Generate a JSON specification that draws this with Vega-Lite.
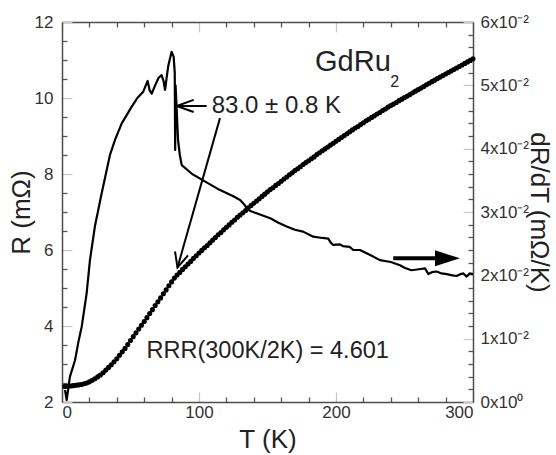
{
  "$schema": "https://vega.github.io/schema/vega-lite/v6.json",
  "autosize": "none",
  "width": 411,
  "height": 380,
  "padding": {"left": 62, "top": 22, "right": 83, "bottom": 53},
  "config": {
    "view": {"stroke": null},
    "font": "Liberation Sans",
    "axis": {
      "grid": false,
      "domainColor": "#4d4d4d",
      "domainWidth": 1.5,
      "labelFont": "Liberation Sans",
      "labelFontSize": 17,
      "labelColor": "#333333",
      "titleFont": "Liberation Sans",
      "titleFontSize": 26,
      "titleFontWeight": "normal",
      "titleColor": "#222222",
      "tickWidth": 1.3
    }
  },
  "datasets": {
    "R": [
      {"T": 2, "R": 2.41}, {"T": 4, "R": 2.415}, {"T": 6, "R": 2.42}, {"T": 8, "R": 2.43}, {"T": 10, "R": 2.44},
      {"T": 12, "R": 2.45}, {"T": 14, "R": 2.46}, {"T": 16, "R": 2.48}, {"T": 18, "R": 2.5}, {"T": 20, "R": 2.53},
      {"T": 22, "R": 2.57}, {"T": 24, "R": 2.61}, {"T": 26, "R": 2.66}, {"T": 28, "R": 2.71}, {"T": 30, "R": 2.77},
      {"T": 32, "R": 2.84}, {"T": 34, "R": 2.91}, {"T": 36, "R": 2.98}, {"T": 38, "R": 3.06}, {"T": 40, "R": 3.14},
      {"T": 42, "R": 3.23}, {"T": 44, "R": 3.32}, {"T": 46, "R": 3.41}, {"T": 48, "R": 3.51}, {"T": 50, "R": 3.62},
      {"T": 52, "R": 3.72}, {"T": 54, "R": 3.82}, {"T": 56, "R": 3.92}, {"T": 58, "R": 4.02}, {"T": 60, "R": 4.12},
      {"T": 62, "R": 4.22}, {"T": 64, "R": 4.33}, {"T": 66, "R": 4.43}, {"T": 68, "R": 4.54}, {"T": 70, "R": 4.64},
      {"T": 72, "R": 4.74}, {"T": 74, "R": 4.85}, {"T": 76, "R": 4.95}, {"T": 78, "R": 5.06}, {"T": 80, "R": 5.16},
      {"T": 82, "R": 5.26}, {"T": 84, "R": 5.34}, {"T": 86, "R": 5.41}, {"T": 88, "R": 5.49}, {"T": 90, "R": 5.56},
      {"T": 92, "R": 5.63}, {"T": 94, "R": 5.7}, {"T": 96, "R": 5.78}, {"T": 98, "R": 5.85}, {"T": 100, "R": 5.92},
      {"T": 102, "R": 5.99}, {"T": 104, "R": 6.06}, {"T": 106, "R": 6.12}, {"T": 108, "R": 6.19}, {"T": 110, "R": 6.26},
      {"T": 112, "R": 6.33}, {"T": 114, "R": 6.4}, {"T": 116, "R": 6.46}, {"T": 118, "R": 6.53}, {"T": 120, "R": 6.6},
      {"T": 122, "R": 6.66}, {"T": 124, "R": 6.73}, {"T": 126, "R": 6.79}, {"T": 128, "R": 6.86}, {"T": 130, "R": 6.92},
      {"T": 132, "R": 6.98}, {"T": 134, "R": 7.04}, {"T": 136, "R": 7.11}, {"T": 138, "R": 7.17}, {"T": 140, "R": 7.23},
      {"T": 142, "R": 7.29}, {"T": 144, "R": 7.35}, {"T": 146, "R": 7.41}, {"T": 148, "R": 7.47}, {"T": 150, "R": 7.53},
      {"T": 152, "R": 7.59}, {"T": 154, "R": 7.64}, {"T": 156, "R": 7.7}, {"T": 158, "R": 7.75}, {"T": 160, "R": 7.81},
      {"T": 162, "R": 7.87}, {"T": 164, "R": 7.92}, {"T": 166, "R": 7.98}, {"T": 168, "R": 8.03}, {"T": 170, "R": 8.09},
      {"T": 172, "R": 8.14}, {"T": 174, "R": 8.19}, {"T": 176, "R": 8.25}, {"T": 178, "R": 8.3}, {"T": 180, "R": 8.35},
      {"T": 182, "R": 8.4}, {"T": 184, "R": 8.45}, {"T": 186, "R": 8.51}, {"T": 188, "R": 8.56}, {"T": 190, "R": 8.61},
      {"T": 192, "R": 8.66}, {"T": 194, "R": 8.71}, {"T": 196, "R": 8.76}, {"T": 198, "R": 8.81}, {"T": 200, "R": 8.86},
      {"T": 202, "R": 8.91}, {"T": 204, "R": 8.96}, {"T": 206, "R": 9.01}, {"T": 208, "R": 9.06}, {"T": 210, "R": 9.11},
      {"T": 212, "R": 9.16}, {"T": 214, "R": 9.21}, {"T": 216, "R": 9.25}, {"T": 218, "R": 9.3}, {"T": 220, "R": 9.35},
      {"T": 222, "R": 9.4}, {"T": 224, "R": 9.44}, {"T": 226, "R": 9.49}, {"T": 228, "R": 9.53}, {"T": 230, "R": 9.58},
      {"T": 232, "R": 9.62}, {"T": 234, "R": 9.67}, {"T": 236, "R": 9.71}, {"T": 238, "R": 9.76}, {"T": 240, "R": 9.8},
      {"T": 242, "R": 9.84}, {"T": 244, "R": 9.88}, {"T": 246, "R": 9.93}, {"T": 248, "R": 9.97}, {"T": 250, "R": 10.01},
      {"T": 252, "R": 10.05}, {"T": 254, "R": 10.09}, {"T": 256, "R": 10.14}, {"T": 258, "R": 10.18}, {"T": 260, "R": 10.22},
      {"T": 262, "R": 10.26}, {"T": 264, "R": 10.3}, {"T": 266, "R": 10.35}, {"T": 268, "R": 10.39}, {"T": 270, "R": 10.43},
      {"T": 272, "R": 10.47}, {"T": 274, "R": 10.51}, {"T": 276, "R": 10.55}, {"T": 278, "R": 10.59}, {"T": 280, "R": 10.63},
      {"T": 282, "R": 10.67}, {"T": 284, "R": 10.71}, {"T": 286, "R": 10.75}, {"T": 288, "R": 10.79}, {"T": 290, "R": 10.83},
      {"T": 292, "R": 10.87}, {"T": 294, "R": 10.91}, {"T": 296, "R": 10.95}, {"T": 298, "R": 10.99}, {"T": 300, "R": 11.03}
    ],
    "D": [
      {"T": 2.2, "D": 0.0019}, {"T": 3.4, "D": 0.0003}, {"T": 5.8, "D": 0.004}, {"T": 9.5, "D": 0.0066},
      {"T": 12, "D": 0.0095}, {"T": 14.4, "D": 0.0119}, {"T": 18, "D": 0.0172}, {"T": 20.4, "D": 0.0224},
      {"T": 24, "D": 0.0277}, {"T": 29, "D": 0.033}, {"T": 32.6, "D": 0.0366}, {"T": 35, "D": 0.039},
      {"T": 38.7, "D": 0.0414}, {"T": 43.6, "D": 0.044}, {"T": 50.8, "D": 0.0466}, {"T": 55, "D": 0.048},
      {"T": 59.3, "D": 0.049}, {"T": 62.5, "D": 0.0507}, {"T": 64, "D": 0.0492}, {"T": 65.5, "D": 0.0487},
      {"T": 68, "D": 0.05}, {"T": 70.5, "D": 0.0512}, {"T": 72.7, "D": 0.0516}, {"T": 74.2, "D": 0.0506},
      {"T": 75.2, "D": 0.0493}, {"T": 77.5, "D": 0.053}, {"T": 80, "D": 0.0553}, {"T": 81.5, "D": 0.0545},
      {"T": 82.3, "D": 0.052}, {"T": 82.6, "D": 0.0398}, {"T": 82.9, "D": 0.05}, {"T": 84.7, "D": 0.0414},
      {"T": 86, "D": 0.039}, {"T": 87.4, "D": 0.0374}, {"T": 95, "D": 0.036}, {"T": 103, "D": 0.035},
      {"T": 115, "D": 0.0335}, {"T": 125, "D": 0.0325}, {"T": 130, "D": 0.0319}, {"T": 133, "D": 0.0312},
      {"T": 134.8, "D": 0.0306}, {"T": 137, "D": 0.0302}, {"T": 142, "D": 0.0298}, {"T": 152, "D": 0.029},
      {"T": 158, "D": 0.0283}, {"T": 164, "D": 0.0277}, {"T": 170, "D": 0.0272}, {"T": 176, "D": 0.0269},
      {"T": 183.4, "D": 0.0261}, {"T": 190, "D": 0.0259}, {"T": 194.4, "D": 0.0258}, {"T": 196, "D": 0.0252},
      {"T": 198, "D": 0.0248}, {"T": 203, "D": 0.0249}, {"T": 205, "D": 0.0246}, {"T": 210, "D": 0.0245},
      {"T": 212.6, "D": 0.024}, {"T": 217.5, "D": 0.024}, {"T": 225, "D": 0.0232}, {"T": 232, "D": 0.0224},
      {"T": 240, "D": 0.0221}, {"T": 246.7, "D": 0.0216}, {"T": 250, "D": 0.0212}, {"T": 255, "D": 0.0208},
      {"T": 262, "D": 0.021}, {"T": 265, "D": 0.0211}, {"T": 267.4, "D": 0.0202}, {"T": 270, "D": 0.0205},
      {"T": 273.5, "D": 0.0206}, {"T": 277, "D": 0.0203}, {"T": 280.8, "D": 0.0202}, {"T": 285, "D": 0.02},
      {"T": 288, "D": 0.0199}, {"T": 291, "D": 0.0202}, {"T": 293, "D": 0.0203}, {"T": 295.4, "D": 0.0198},
      {"T": 297.5, "D": 0.0203}, {"T": 300, "D": 0.0202}
    ],
    "arrows": [
      {"g": "h_shaft", "i": 0, "T": 83.7, "R": 9.79}, {"g": "h_shaft", "i": 1, "T": 105.6, "R": 9.79},
      {"g": "h_head", "i": 0, "T": 96.1, "R": 9.95}, {"g": "h_head", "i": 1, "T": 83.7, "R": 9.79}, {"g": "h_head", "i": 2, "T": 96.1, "R": 9.63},
      {"g": "d_shaft", "i": 0, "T": 115.3, "R": 9.47}, {"g": "d_shaft", "i": 1, "T": 84.3, "R": 5.54},
      {"g": "d_head", "i": 0, "T": 92.0, "R": 5.86}, {"g": "d_head", "i": 1, "T": 84.3, "R": 5.54}, {"g": "d_head", "i": 2, "T": 82.5, "R": 5.96}
    ],
    "bigarrow": [
      {"g": "r_shaft", "i": 0, "T": 241.8, "R": 5.78}, {"g": "r_shaft", "i": 1, "T": 274, "R": 5.78}
    ],
    "head": [{"T": 281.4, "R": 5.78}],
    "labels": [
      {"T": 184.7, "R": 10.72, "text": "GdRu", "size": 29},
      {"T": 109.3, "R": 9.61, "text": "83.0 ± 0.8 K", "size": 24},
      {"T": 61.7, "R": 3.15, "text": "RRR(300K/2K) = 4.601", "size": 23.5}
    ],
    "sub": [{"T": 239.6, "R": 10.3, "text": "2"}]
  },
  "layer": [
    {
      "data": {"name": "R"},
      "mark": {"type": "point", "filled": true, "shape": "circle", "size": 26, "color": "#000000", "opacity": 1},
      "encoding": {
        "x": {
          "field": "T", "type": "quantitative",
          "scale": {"domain": [0, 300], "nice": false, "zero": false},
          "axis": {
            "orient": "bottom", "title": "T (K)",
            "values": [0, 20, 40, 60, 80, 100, 120, 140, 160, 180, 200, 220, 240, 260, 280, 300],
            "labelExpr": "datum.value % 100 === 0 ? '' + datum.value : ''",
            "tickSize": {"condition": {"test": "datum.value % 100 === 0", "value": -10}, "value": -5},
            "tickColor": {"condition": {"test": "datum.value % 100 === 0", "value": "#c8c8c8"}, "value": "#555555"},
            "labelPadding": 12, "titleY": 24
          }
        },
        "y": {
          "field": "R", "type": "quantitative",
          "scale": {"domain": [2, 12], "nice": false, "zero": false},
          "axis": {
            "orient": "left", "title": "R  (mΩ)",
            "values": [2, 2.5, 3, 3.5, 4, 4.5, 5, 5.5, 6, 6.5, 7, 7.5, 8, 8.5, 9, 9.5, 10, 10.5, 11, 11.5, 12],
            "labelExpr": "datum.value % 2 === 0 ? '' + datum.value : ''",
            "tickSize": {"condition": {"test": "datum.value % 2 === 0", "value": -10}, "value": -5},
            "tickColor": {"condition": {"test": "datum.value % 2 === 0", "value": "#c8c8c8"}, "value": "#555555"},
            "labelPadding": 19, "titleX": -28
          }
        }
      }
    },
    {
      "data": {"name": "D"},
      "mark": {"type": "line", "color": "#000000", "strokeWidth": 2.2, "strokeJoin": "round"},
      "encoding": {
        "x": {
          "field": "T", "type": "quantitative",
          "scale": {"domain": [0, 300], "nice": false, "zero": false},
          "axis": {
            "orient": "top", "title": null, "labels": false,
            "values": [0, 20, 40, 60, 80, 100, 120, 140, 160, 180, 200, 220, 240, 260, 280, 300],
            "tickSize": {"condition": {"test": "datum.value % 100 === 0", "value": -10}, "value": -5},
            "tickColor": {"condition": {"test": "datum.value % 100 === 0", "value": "#c8c8c8"}, "value": "#555555"}
          }
        },
        "y": {
          "field": "D", "type": "quantitative",
          "scale": {"domain": [0, 0.06], "nice": false, "zero": false},
          "axis": {
            "orient": "right", "title": "dR/dT (mΩ/K)",
            "values": [0, 0.002, 0.004, 0.006, 0.008, 0.01, 0.012, 0.014, 0.016, 0.018, 0.02, 0.022, 0.024, 0.026, 0.028, 0.03, 0.032, 0.034, 0.036, 0.038, 0.04, 0.042, 0.044, 0.046, 0.048, 0.05, 0.052, 0.054, 0.056, 0.058, 0.06],
            "labelExpr": "abs(datum.value*100 - round(datum.value*100)) < 1e-6 ? (datum.value === 0 ? '0x10⁰' : round(datum.value*100) + 'x10⁻²') : ''",
            "tickSize": {"condition": {"test": "abs(datum.value*100 - round(datum.value*100)) < 1e-6", "value": -10}, "value": -5},
            "tickColor": {"condition": {"test": "abs(datum.value*100 - round(datum.value*100)) < 1e-6", "value": "#c8c8c8"}, "value": "#555555"},
            "labelPadding": 17, "titleX": 52
          }
        }
      }
    },
    {
      "data": {"name": "arrows"},
      "mark": {"type": "line", "color": "#000000", "strokeWidth": 2, "strokeCap": "butt", "strokeJoin": "miter"},
      "encoding": {
        "x": {"field": "T", "type": "quantitative", "scale": {"domain": [0, 300], "nice": false, "zero": false}, "axis": null},
        "y": {"field": "R", "type": "quantitative", "scale": {"domain": [2, 12], "nice": false, "zero": false}, "axis": null},
        "detail": {"field": "g"},
        "order": {"field": "i"}
      }
    },
    {
      "data": {"name": "bigarrow"},
      "mark": {"type": "line", "color": "#000000", "strokeWidth": 4, "strokeCap": "butt"},
      "encoding": {
        "x": {"field": "T", "type": "quantitative", "scale": {"domain": [0, 300], "nice": false, "zero": false}, "axis": null},
        "y": {"field": "R", "type": "quantitative", "scale": {"domain": [2, 12], "nice": false, "zero": false}, "axis": null},
        "detail": {"field": "g"},
        "order": {"field": "i"}
      }
    },
    {
      "data": {"name": "head"},
      "mark": {"type": "point", "filled": true, "shape": "M-1,-0.64L1,0L-1,0.64Z", "size": 625, "color": "#000000", "opacity": 1},
      "encoding": {
        "x": {"field": "T", "type": "quantitative", "scale": {"domain": [0, 300], "nice": false, "zero": false}, "axis": null},
        "y": {"field": "R", "type": "quantitative", "scale": {"domain": [2, 12], "nice": false, "zero": false}, "axis": null}
      }
    },
    {
      "data": {"name": "labels"},
      "mark": {"type": "text", "align": "left", "baseline": "alphabetic", "font": "Liberation Sans", "color": "#222222"},
      "encoding": {
        "x": {"field": "T", "type": "quantitative", "scale": {"domain": [0, 300], "nice": false, "zero": false}, "axis": null},
        "y": {"field": "R", "type": "quantitative", "scale": {"domain": [2, 12], "nice": false, "zero": false}, "axis": null},
        "text": {"field": "text"},
        "size": {"field": "size", "type": "quantitative", "scale": null}
      }
    },
    {
      "data": {"name": "sub"},
      "mark": {"type": "text", "align": "left", "baseline": "alphabetic", "font": "Liberation Sans", "fontSize": 16, "color": "#222222"},
      "encoding": {
        "x": {"field": "T", "type": "quantitative", "scale": {"domain": [0, 300], "nice": false, "zero": false}, "axis": null},
        "y": {"field": "R", "type": "quantitative", "scale": {"domain": [2, 12], "nice": false, "zero": false}, "axis": null},
        "text": {"field": "text"}
      }
    }
  ],
  "resolve": {"scale": {"y": "independent"}, "axis": {"x": "independent", "y": "independent"}}
}
